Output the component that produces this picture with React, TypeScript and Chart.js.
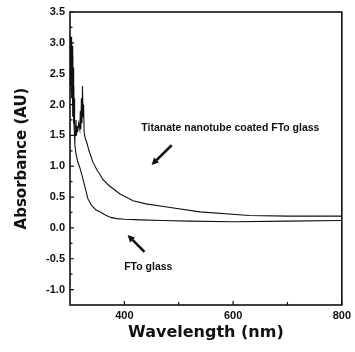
import React, { useEffect, useRef } from "react";
import { Chart, registerables } from "chart.js";

Chart.register(...registerables);

// FTO glass (lower curve)
const ftoWavelength = [300, 300.5, 301, 301.5, 302, 302.5, 303, 303.5, 304, 304.5, 305, 305.5, 306, 306.5, 307, 308, 309, 311, 314, 318, 322, 327, 333, 340, 348, 355, 365, 375, 386, 400, 430, 470, 520, 600, 700, 800];
const ftoAbsorbance = [3.05, 2.5, 3.1, 2.3, 3.0, 2.2, 2.9, 2.1, 2.8, 1.9, 2.5, 1.8, 2.3, 1.7, 1.8, 1.55, 1.35, 1.2, 1.08, 0.98, 0.85, 0.68, 0.47, 0.36, 0.29, 0.26, 0.21, 0.17, 0.15, 0.14, 0.13, 0.12, 0.11, 0.1, 0.11, 0.12];

// Titanate nanotube coated FTO glass (upper curve)
const tntWavelength = [300, 300.5, 301, 301.5, 302, 302.5, 303, 303.5, 304, 304.5, 305, 305.5, 306, 306.5, 307, 307.5, 308, 309, 310, 311, 312, 313, 314, 316, 318, 319, 320, 321, 322, 323, 324, 325, 326, 328, 331, 335, 342, 350, 355, 360, 370, 380, 392, 416, 440, 478, 539, 630, 700, 800];
const tntAbsorbance = [3.1, 2.6, 3.05, 2.4, 3.1, 2.3, 3.0, 2.5, 2.95, 2.2, 2.7, 2.0, 2.6, 1.8, 2.3, 1.7, 2.1, 1.7, 1.5, 1.75, 1.5, 1.65, 1.55, 1.7, 1.6, 1.9, 1.6, 2.1, 1.7, 2.3, 1.8, 2.0, 1.55, 1.45, 1.38, 1.25, 1.07, 0.93, 0.87, 0.79, 0.7, 0.63, 0.55, 0.44, 0.39, 0.34, 0.26, 0.2, 0.19, 0.19];

const xTickValues = [400, 600, 800];
const xMinorTickValues = [500, 700];
const yTickValues = [-1.0, -0.5, 0.0, 0.5, 1.0, 1.5, 2.0, 2.5, 3.0, 3.5];
const yMinorTickValues = [-0.75, -0.25, 0.25, 0.75, 1.25, 1.75, 2.25, 2.75, 3.25];

const labelTexts = ["Titanate nanotube coated FTo glass", "FTo glass"];
const labelAnchors = [
  { x: 595, y: 1.62 },
  { x: 444, y: -0.63 },
];
const arrowAnchors = [
  { from: { x: 487, y: 1.34 }, to: { x: 450, y: 1.02 } },
  { from: { x: 437, y: -0.39 }, to: { x: 406, y: -0.115 } },
];

const decorPlugin = {
  id: "decor",
  afterDatasetsDraw(chart: any) {
    const { ctx, chartArea, scales } = chart;
    const { left, right, top, bottom } = chartArea;
    const xs = scales.x;
    const ys = scales.y;
    ctx.save();
    ctx.strokeStyle = "#111";
    ctx.lineWidth = 1.6;
    ctx.strokeRect(left, top, right - left, bottom - top);

    ctx.lineWidth = 1.2;
    ctx.beginPath();
    yTickValues.forEach((v) => {
      const p = ys.getPixelForValue(v);
      ctx.moveTo(left, p);
      ctx.lineTo(left + 4, p);
    });
    yMinorTickValues.forEach((v) => {
      const p = ys.getPixelForValue(v);
      ctx.moveTo(left, p);
      ctx.lineTo(left + 2.5, p);
    });
    xTickValues.forEach((v) => {
      const p = xs.getPixelForValue(v);
      ctx.moveTo(p, bottom);
      ctx.lineTo(p, bottom - 4);
    });
    xMinorTickValues.forEach((v) => {
      const p = xs.getPixelForValue(v);
      ctx.moveTo(p, bottom);
      ctx.lineTo(p, bottom - 3);
    });
    ctx.stroke();

    ctx.fillStyle = "#111";
    ctx.font = 'bold 10.5px "Liberation Sans"';
    ctx.textAlign = "center";
    ctx.textBaseline = "middle";
    labelTexts.forEach((t, i) => {
      ctx.fillText(t, xs.getPixelForValue(labelAnchors[i].x), ys.getPixelForValue(labelAnchors[i].y));
    });

    arrowAnchors.forEach((a) => {
      const x1 = xs.getPixelForValue(a.from.x);
      const y1 = ys.getPixelForValue(a.from.y);
      const x2 = xs.getPixelForValue(a.to.x);
      const y2 = ys.getPixelForValue(a.to.y);
      const ang = Math.atan2(y2 - y1, x2 - x1);
      const hl = 7;
      const hw = 3.5;
      const bx = x2 - hl * Math.cos(ang);
      const by = y2 - hl * Math.sin(ang);
      ctx.lineWidth = 2.6;
      ctx.beginPath();
      ctx.moveTo(x1, y1);
      ctx.lineTo(bx, by);
      ctx.stroke();
      ctx.beginPath();
      ctx.moveTo(x2, y2);
      ctx.lineTo(bx + hw * Math.sin(ang), by - hw * Math.cos(ang));
      ctx.lineTo(bx - hw * Math.sin(ang), by + hw * Math.cos(ang));
      ctx.closePath();
      ctx.fill();
    });
    ctx.restore();
  },
};

export default function App() {
  const canvasRef = useRef<HTMLCanvasElement | null>(null);

  useEffect(() => {
    if (!canvasRef.current) return;
    const chart = new Chart(canvasRef.current, {
      type: "line",
      data: {
        datasets: [
          {
            label: "Titanate nanotube coated FTo glass",
            data: tntWavelength.map((w, i) => ({ x: w, y: tntAbsorbance[i] })),
            borderColor: "#111",
            borderWidth: 1.1,
            pointRadius: 0,
            tension: 0,
            fill: false,
          },
          {
            label: "FTo glass",
            data: ftoWavelength.map((w, i) => ({ x: w, y: ftoAbsorbance[i] })),
            borderColor: "#111",
            borderWidth: 1.1,
            pointRadius: 0,
            tension: 0,
            fill: false,
          },
        ],
      },
      options: {
        responsive: false,
        animation: false,
        layout: { padding: { left: 0, right: 12, top: 12, bottom: 0 } },
        plugins: { legend: { display: false }, tooltip: { enabled: false } },
        scales: {
          x: {
            type: "linear",
            min: 300,
            max: 800,
            grid: { display: false, drawTicks: false },
            border: { display: false },
            afterBuildTicks: (s: any) => {
              s.ticks = xTickValues.map((v) => ({ value: v }));
            },
            afterFit: (s: any) => {
              s.height = 47;
            },
            ticks: {
              autoSkip: false,
              maxRotation: 0,
              padding: 4,
              color: "#111",
              font: { family: "Liberation Sans", size: 11, weight: "bold" },
              callback: (v: any) => String(v),
            },
            title: {
              display: true,
              text: "Wavelength (nm)",
              color: "#111",
              font: { family: "DejaVu Sans", size: 16, weight: "bold" },
              padding: { top: 0, bottom: 10 },
            },
          },
          y: {
            type: "linear",
            min: -1.25,
            max: 3.5,
            grid: { display: false, drawTicks: false },
            border: { display: false },
            afterBuildTicks: (s: any) => {
              s.ticks = yTickValues.map((v) => ({ value: v }));
            },
            afterFit: (s: any) => {
              s.width = 70;
            },
            ticks: {
              autoSkip: false,
              padding: 5,
              color: "#111",
              font: { family: "Liberation Sans", size: 11, weight: "bold" },
              callback: (v: any) => Number(v).toFixed(1),
            },
            title: {
              display: true,
              text: "Absorbance (AU)",
              color: "#111",
              font: { family: "DejaVu Sans", size: 15, weight: "bold" },
              padding: { top: 13, bottom: 0 },
            },
          },
        },
      },
      plugins: [decorPlugin],
    } as any);
    return () => chart.destroy();
  }, []);

  return (
    <div style={{ position: "fixed", left: 0, top: 0, width: 355, height: 352, background: "#fff" }}>
      <canvas ref={canvasRef} width={355} height={352} style={{ display: "block" }} />
    </div>
  );
}
